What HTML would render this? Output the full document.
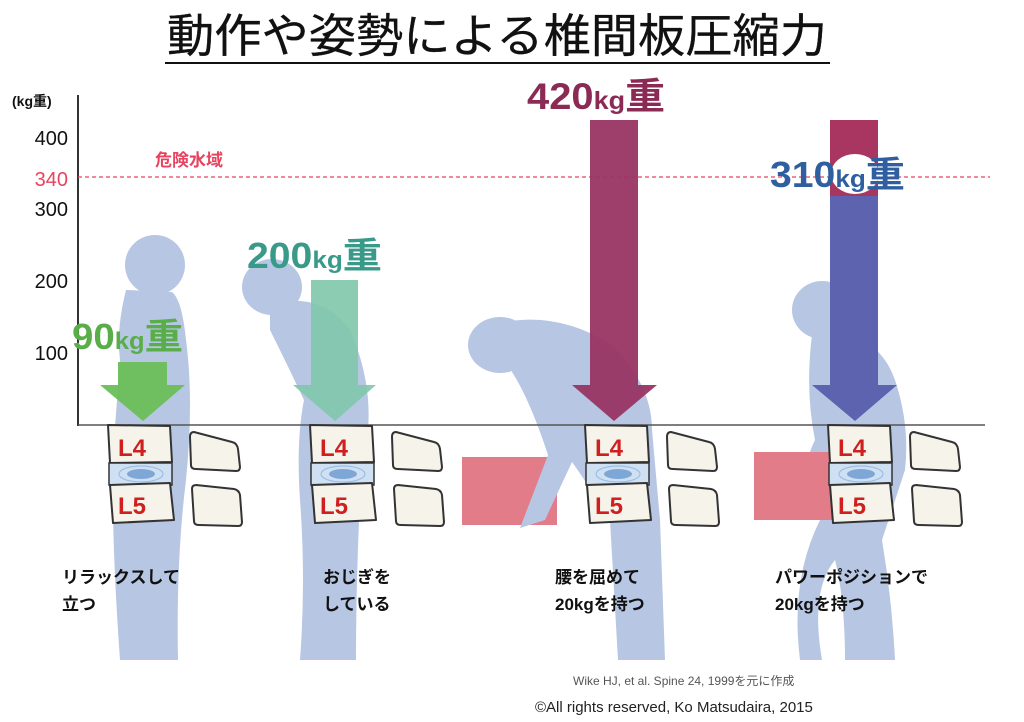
<!DOCTYPE html>
<html><head><meta charset="utf-8"><style>
html,body{margin:0;padding:0;background:#fff;}
svg{display:block;font-family:"Liberation Sans","Noto Sans CJK JP",sans-serif;}
</style></head><body>
<svg width="1024" height="722" viewBox="0 0 1024 722" xmlns="http://www.w3.org/2000/svg">
<defs>
<g id="vert">
 <path d="M0,0 L62,1 L64,37 L2,38 Z" fill="#f5f3ea" stroke="#333" stroke-width="2" stroke-linejoin="round"/>
 <rect x="1" y="38" width="63" height="22" fill="#cfe0f2" stroke="#333" stroke-width="1.5"/>
 <ellipse cx="33" cy="49" rx="22" ry="8" fill="none" stroke="#9bbfe6" stroke-width="1.2"/>
 <ellipse cx="33" cy="49" rx="14" ry="5" fill="#7fa7d6"/>
 <path d="M2,60 L62,58 L66,95 L5,98 Z" fill="#f5f3ea" stroke="#333" stroke-width="2" stroke-linejoin="round"/>
 <text x="10" y="31" font-size="24" fill="#d01f1f" font-weight="bold">L4</text>
 <text x="10" y="89" font-size="24" fill="#d01f1f" font-weight="bold">L5</text>
 <path d="M86,7 Q82,7 82,12 L83,40 Q83,44 88,44 L128,46 Q132,46 132,42 L130,24 Q129,18 124,17 Z" fill="#f5f3ea" stroke="#333" stroke-width="2" stroke-linejoin="round"/>
 <path d="M88,60 Q84,60 84,64 L86,96 Q86,100 91,100 L130,101 Q134,101 134,97 L132,70 Q131,65 126,64 Z" fill="#f5f3ea" stroke="#333" stroke-width="2" stroke-linejoin="round"/>
</g>
</defs>
<text x="497" y="52" font-size="46" text-anchor="middle" fill="#111" stroke="#111" stroke-width="0.3" textLength="660" lengthAdjust="spacingAndGlyphs">動作や姿勢による椎間板圧縮力</text>
<line x1="165" y1="63" x2="830" y2="63" stroke="#111" stroke-width="2"/>

<rect x="462" y="457" width="95" height="68" fill="#e27c88"/>
<g fill="#b6c6e3">
 <circle cx="155" cy="265" r="30"/>
 <path d="M126,290 Q116,330 120,360 L114,440 Q110,520 120,660 L178,660 Q176,560 186,480 Q194,400 186,340 Q182,300 172,292 Z"/>
 <ellipse cx="272" cy="287" rx="30" ry="28"/>
 <path d="M270,305 Q320,290 350,330 Q372,380 368,430 L360,500 Q356,580 356,660 L300,660 Q306,580 300,500 Q296,440 304,400 Q285,360 270,330 Z"/>
 <ellipse cx="500" cy="345" rx="32" ry="28"/>
 <path d="M505,322 Q560,312 612,345 Q652,385 652,430 L660,520 L665,660 L618,660 L610,520 Q585,480 572,462 L545,520 L520,528 L548,455 Q530,400 512,372 Z"/>
 <ellipse cx="822" cy="310" rx="30" ry="29"/>
 <path d="M812,335 Q875,325 895,380 Q910,425 905,470 L882,540 Q892,600 895,660 L845,660 Q845,600 835,560 Q810,590 822,660 L800,660 Q790,580 820,520 L800,520 Q800,470 815,440 Q805,390 812,335 Z"/>
</g>
<rect x="754" y="452" width="80" height="68" fill="#e27c88"/>

<line x1="78" y1="95" x2="78" y2="426" stroke="#333" stroke-width="2"/>
<line x1="78" y1="425" x2="985" y2="425" stroke="#555" stroke-width="1.5"/>
<g font-size="20" fill="#111" text-anchor="end">
 <text x="68" y="145">400</text><text x="68" y="216">300</text>
 <text x="68" y="288">200</text><text x="68" y="360">100</text>
</g>
<text x="68" y="186" font-size="20" fill="#e8435f" text-anchor="end">340</text>
<text x="12" y="106" font-size="14" fill="#111" font-weight="bold">(kg重)</text>
<line x1="78" y1="177" x2="990" y2="177" stroke="#e8435f" stroke-width="1.3" stroke-dasharray="4,3"/>
<text x="155" y="166" font-size="17" fill="#e8435f" font-weight="bold">危険水域</text>

<path d="M118,362 H167 V385 H185 L143,421 L100,385 H118 Z" fill="#6bbf59" opacity="0.95"/>
<path d="M311,280 H358 V385 H376 L335,421 L293,385 H311 Z" fill="#7fc6ab" opacity="0.9"/>
<path d="M590,120 H638 V385 H657 L614,421 L572,385 H590 Z" fill="#993563" opacity="0.95"/>
<rect x="830" y="120" width="48" height="80" fill="#a83660"/>
<path d="M830,196 H878 V385 H897 L855,421 L812,385 H830 Z" fill="#5d63ae"/>
<ellipse cx="855" cy="174" rx="24" ry="20" fill="#fff"/>

<text x="72" y="349" font-size="36" font-weight="bold" fill="#5aae4a" textLength="111" lengthAdjust="spacingAndGlyphs">90<tspan font-size="24">kg</tspan>重</text>
<text x="247" y="268" font-size="36" font-weight="bold" fill="#3a9a8a" textLength="135" lengthAdjust="spacingAndGlyphs">200<tspan font-size="24">kg</tspan>重</text>
<text x="527" y="109" font-size="37" font-weight="bold" fill="#8b2b55" textLength="138" lengthAdjust="spacingAndGlyphs">420<tspan font-size="25">kg</tspan>重</text>
<text x="770" y="187" font-size="36" font-weight="bold" fill="#2f5fa0" textLength="135" lengthAdjust="spacingAndGlyphs">310<tspan font-size="24">kg</tspan>重</text>

<use href="#vert" x="108" y="425"/>
<use href="#vert" x="310" y="425"/>
<use href="#vert" x="585" y="425"/>
<use href="#vert" x="828" y="425"/>

<g font-size="17" font-weight="bold" fill="#111">
 <text x="62" y="583">リラックスして</text><text x="62" y="610">立つ</text>
 <text x="323" y="583">おじぎを</text><text x="323" y="610">している</text>
 <text x="555" y="583">腰を屈めて</text><text x="555" y="610">20kgを持つ</text>
 <text x="775" y="583">パワーポジションで</text><text x="775" y="610">20kgを持つ</text>
</g>
<text x="573" y="685" font-size="12" fill="#555">Wike HJ, et al. Spine 24, 1999を元に作成</text>
<text x="535" y="712" font-size="15" fill="#222">©All rights reserved, Ko Matsudaira, 2015</text>
</svg>
</body></html>
